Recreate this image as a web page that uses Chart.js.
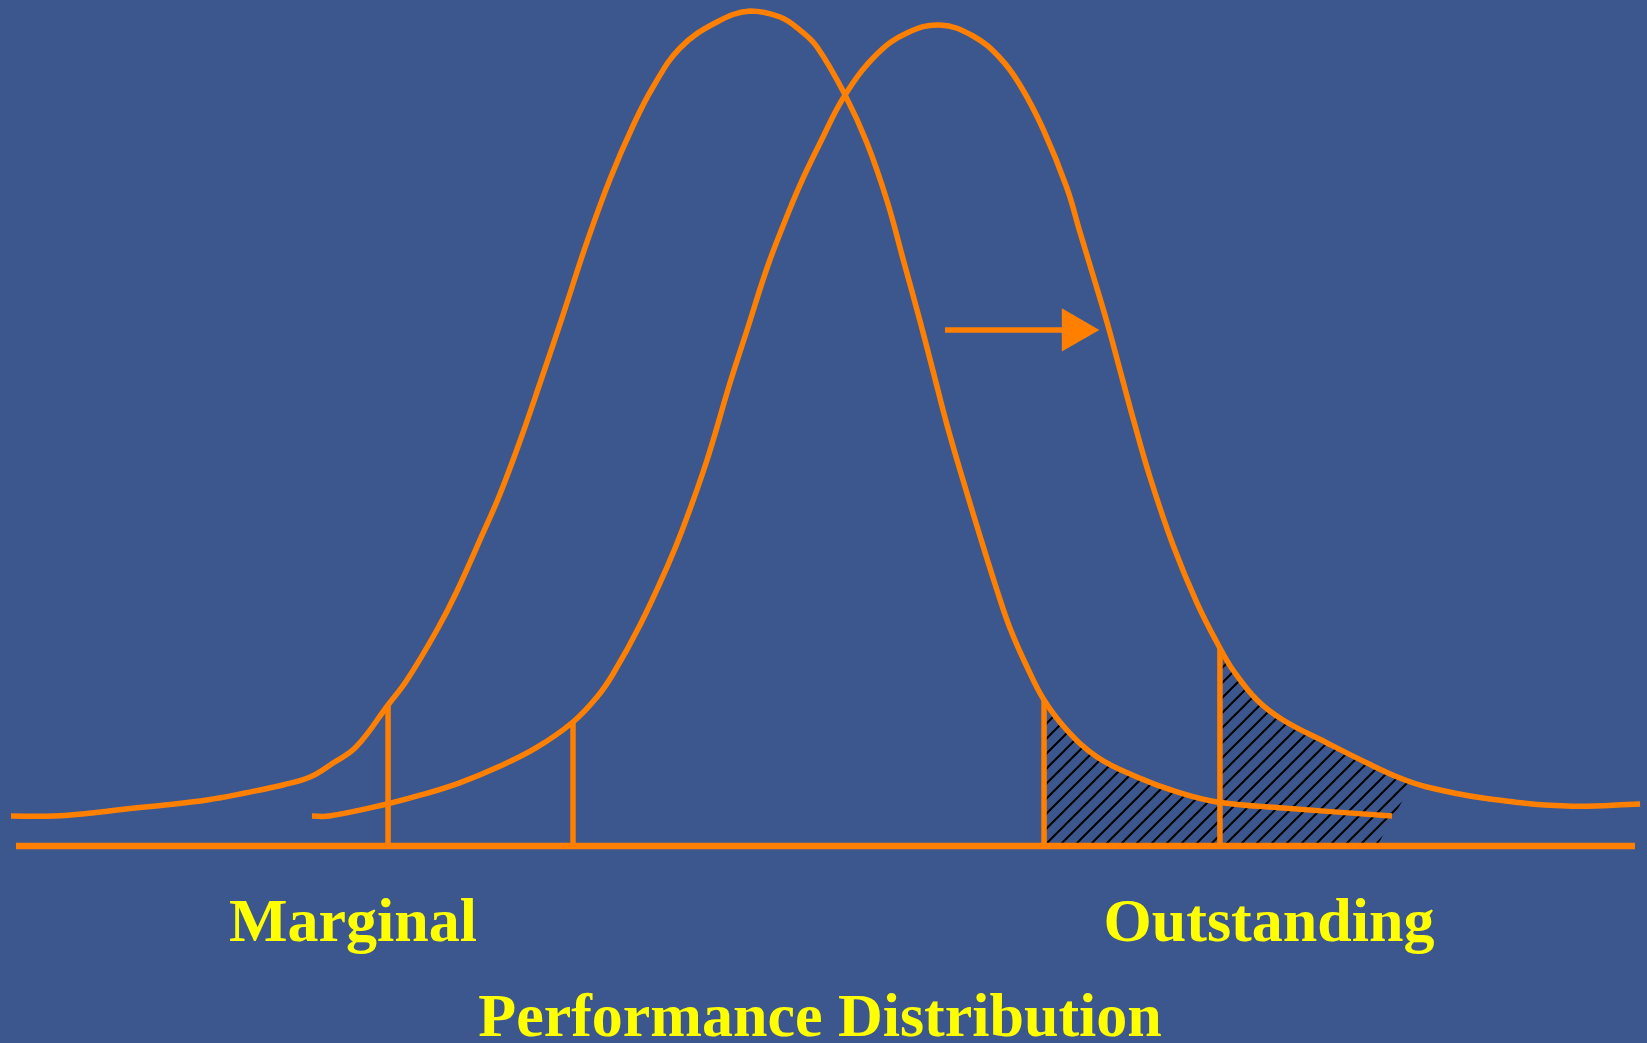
<!DOCTYPE html>
<html>
<head>
<meta charset="utf-8">
<title>Performance Distribution</title>
<script src="https://cdn.jsdelivr.net/npm/chart.js@4.4.1/dist/chart.umd.min.js"></script>
<style>
  html, body { margin: 0; padding: 0; background: #3C578E; }
  #wrap { width: 1647px; height: 1043px; position: relative; }
</style>
</head>
<body>
<div id="wrap"><canvas id="perfChart"></canvas></div>
<script>
// performance score (0-100) vs relative frequency (0-100)
const currentX = [0.67, 3.28, 5.59, 7.65, 10.02, 12.57, 14.88, 17.18, 18.82, 20.22, 21.62, 23.56, 24.71, 26.53, 27.75, 29.33, 30.36, 31.57, 32.79, 34.18, 35.64, 37.04, 38.43, 39.65, 41.29, 43.53, 45.54, 47.36, 48.57, 49.61, 51.31, 52.64, 53.86, 54.83, 55.86, 56.65, 57.50, 58.47, 59.50, 60.53, 61.32, 62.36, 63.39, 64.78, 66.61, 69.03, 71.46, 73.89, 77.90, 84.52];
const currentY = [3.59, 3.59, 3.95, 4.43, 4.91, 5.51, 6.35, 7.31, 8.26, 9.94, 11.86, 16.89, 19.88, 25.87, 30.54, 37.49, 42.16, 48.50, 55.45, 63.59, 72.34, 79.88, 86.23, 90.90, 95.57, 98.68, 100, 99.28, 97.72, 95.69, 89.94, 84.19, 77.25, 70.30, 62.87, 56.89, 50.42, 43.83, 37.13, 30.66, 26.11, 21.44, 17.49, 13.89, 10.66, 8.26, 6.47, 5.27, 4.55, 3.59];

const shiftedX = [18.94, 19.98, 23.25, 25.56, 27.87, 30.24, 32.54, 34.79, 36.25, 37.22, 38.86, 40.50, 41.47, 42.93, 44.32, 45.36, 46.57, 47.54, 48.57, 49.79, 51.31, 53.25, 55.07, 57.07, 59.08, 60.72, 61.93, 63.33, 64.78, 65.57, 66.36, 67.21, 68.00, 68.79, 69.82, 71.22, 72.68, 74.07, 74.86, 76.32, 77.90, 80.57, 83.00, 85.00, 86.64, 90.04, 95.14, 99.58];
const shiftedY = [3.59, 3.59, 4.91, 6.11, 7.54, 9.46, 11.74, 14.85, 17.84, 20.60, 26.47, 33.41, 38.08, 46.23, 55.45, 61.80, 69.22, 74.25, 79.16, 84.19, 89.94, 94.85, 97.37, 98.32, 97.01, 94.37, 91.14, 85.87, 78.80, 73.53, 68.38, 62.75, 57.01, 51.26, 44.19, 36.05, 29.10, 23.71, 21.08, 17.49, 15.09, 12.34, 9.94, 8.14, 7.07, 5.75, 4.79, 5.03];

// cut-off markers (score, height where they meet the curve)
const cutoffX = [23.56, 34.79, 63.39, 74.07];
const cutoffTop = [16.89, 14.85, 17.49, 23.71];

// hatched "outstanding" area outline (closed along the axis)
const hatchX = [63.39, 64.78, 66.61, 69.03, 71.46, 73.89, 74.07, 74.07, 74.86, 76.32, 77.90, 80.57, 83.00, 85.00, 85.79, 83.61];
const hatchY = [17.49, 13.89, 10.66, 8.26, 6.47, 5.27, 5.20, 23.71, 21.08, 17.49, 15.09, 12.34, 9.94, 8.14, 7.66, 0];

const axisX = [0.97, 99.27];
const arrowX = [57.38, 65.23];
const arrowY = 61.8;

const labelText = ['Marginal', 'Outstanding'];
const labelX = [21.43, 77.05];
const titleText = 'Performance Distribution';
const titleX = 49.79;

const ORANGE = '#FF8000';
const YELLOW = '#FFFF00';

function pts(xs, ys) {
    return xs.map((x, i) => ({ x: x, y: ys[i] }));
}

// motif hachuré
function makeHatch(ctx) {
    const s = 15;
    const c = document.createElement('canvas');
    c.width = s; c.height = s;
    const g = c.getContext('2d');
    g.strokeStyle = '#000000';
    g.lineWidth = 2;
    g.beginPath();
    g.moveTo(-3, s + 3); g.lineTo(s + 3, -3);
    g.moveTo(-3, 3); g.lineTo(3, -3);
    g.moveTo(s - 3, s + 3); g.lineTo(s + 3, s - 3);
    g.stroke();
    return ctx.createPattern(c, 'repeat');
}

const lineBase = {
    showLine: true,
    pointRadius: 0,
    borderColor: ORANGE,
    borderWidth: 5.5,
    fill: false,
    clip: false
};

const datasets = [];

datasets.push(Object.assign({}, lineBase, {
    label: 'current',
    data: pts(currentX, currentY),
    tension: 0.4
}));
datasets.push(Object.assign({}, lineBase, {
    label: 'shifted',
    data: pts(shiftedX, shiftedY),
    tension: 0.4
}));
cutoffX.forEach((x, i) => {
    datasets.push(Object.assign({}, lineBase, {
        label: 'cutoff' + i,
        data: [{ x: x, y: 0 }, { x: x, y: cutoffTop[i] }]
    }));
});
datasets.push(Object.assign({}, lineBase, {
    label: 'axis',
    borderWidth: 6.5,
    data: axisX.map(x => ({ x: x, y: 0 }))
}));
datasets.push(Object.assign({}, lineBase, {
    label: 'arrow',
    data: arrowX.map(x => ({ x: x, y: arrowY })),
    pointRadius: [0, 25],
    pointStyle: 'triangle',
    rotation: 90,
    pointBackgroundColor: ORANGE,
    pointBorderColor: ORANGE,
    pointBorderWidth: 0
}));

// zone hachurée, sous les courbes
const hatchPlugin = {
    id: 'hatchArea',
    beforeDatasetsDraw(chart) {
        const ctx = chart.ctx;
        const xs = chart.scales.x, ys = chart.scales.y;
        ctx.save();
        ctx.beginPath();
        ctx.moveTo(xs.getPixelForValue(hatchX[0]), ys.getPixelForValue(0));
        hatchX.forEach((x, i) => {
            ctx.lineTo(xs.getPixelForValue(x), ys.getPixelForValue(hatchY[i]));
        });
        ctx.closePath();
        ctx.fillStyle = makeHatch(ctx);
        ctx.fill();
        ctx.restore();
    }
};

// textes sous l'axe
const labelsPlugin = {
    id: 'bottomLabels',
    afterDraw(chart) {
        const ctx = chart.ctx;
        const xs = chart.scales.x;
        const bottom = chart.chartArea.bottom;
        ctx.save();
        ctx.fillStyle = YELLOW;
        ctx.font = 'bold 62px "Liberation Serif", "Times New Roman", serif';
        ctx.textAlign = 'center';
        ctx.textBaseline = 'alphabetic';
        labelText.forEach((t, i) => {
            ctx.fillText(t, xs.getPixelForValue(labelX[i]), bottom + 95);
        });
        ctx.fillText(titleText, xs.getPixelForValue(titleX), bottom + 190);
        ctx.restore();
    }
};

new Chart(document.getElementById('perfChart'), {
    type: 'scatter',
    data: { datasets: datasets },
    options: {
        responsive: true,
        maintainAspectRatio: false,
        animation: false,
        layout: {
            autoPadding: false,
            padding: { left: 0, right: 0, top: 11, bottom: 197 }
        },
        plugins: {
            legend: { display: false },
            tooltip: { enabled: false }
        },
        scales: {
            x: { type: 'linear', min: 0, max: 100, display: false },
            y: { type: 'linear', min: 0, max: 100, display: false }
        }
    },
    plugins: [hatchPlugin, labelsPlugin]
});
</script>
</body>
</html>
